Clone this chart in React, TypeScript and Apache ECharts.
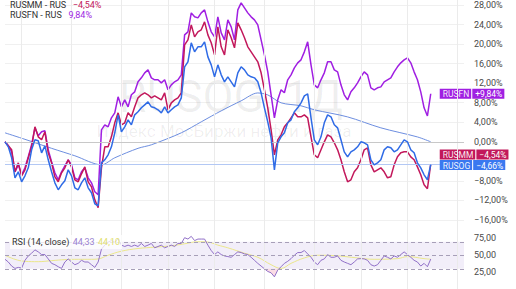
import React, { useEffect, useRef } from 'react';
import * as echarts from 'echarts';

// Change since start, % (index = trading session)
const rusfn = [0, -0.82, -2.05, -6.14, -4.71, -6.75, -5.32, -3.07, -0.61, 2.86, 1.23, 2.05, 2.25, -1.64, -4.09, -6.34, -7.77, -6.14, -4.91, -3.68, -4.71, -7.37, -7.77, -6.14, -5.32, -7.37, -8.39, -10.23, -10.84, 2.46, 3.48, 3.07, 4.91, 5.93, 9.21, 7.16, 8.59, 7.16, 9.62, 10.23, 12.28, 13.09, 14.12, 14.73, 13.09, 12.69, 12.69, 12.07, 12.69, 10.64, 11.66, 12.28, 12.69, 13.71, 21.89, 22.51, 26.39, 25.58, 25.37, 26.39, 27.01, 24.55, 22.51, 21.48, 25.58, 22.3, 20.87, 24.96, 23.53, 20.87, 27.01, 28.44, 27.42, 26.39, 25.58, 24.96, 23.94, 20.87, 17.8, 14.32, 9.62, 4.91, 8.59, 10.64, 10.03, 12.69, 13.71, 15.14, 16.16, 16.78, 18.41, 20.46, 15.75, 11.66, 11.05, 12.69, 14.12, 16.37, 16.37, 14.73, 14.32, 11.66, 9.62, 8.59, 10.23, 11.05, 12.07, 13.3, 14.32, 13.71, 11.05, 10.64, 11.05, 11.25, 12.28, 12.69, 13.09, 14.32, 15.35, 16.16, 16.78, 17.19, 16.16, 14.32, 12.69, 10.23, 6.96, 5.3, 9.84];
const rusmm = [0, -0.82, -1.64, -6.14, -4.3, -6.96, -5.73, -3.27, -1.02, 3.07, 1.02, 0.41, 2.05, -2.25, -4.3, -7.16, -8.18, -6.34, -5.32, -3.68, -5.12, -7.77, -8.18, -6.55, -5.12, -8.18, -9.21, -11.87, -13.5, -5.32, -1.02, -1.02, 1.02, 3.89, 5.93, 3.48, 3.89, 5.93, 5.12, 7.16, 9.0, 9.62, 10.03, 9.62, 9.0, 9.41, 9.0, 8.59, 10.03, 6.55, 7.98, 8.59, 9.0, 10.03, 19.85, 20.87, 23.94, 21.48, 22.51, 22.92, 24.55, 21.89, 20.26, 17.8, 23.53, 19.44, 17.8, 22.92, 21.28, 19.23, 24.35, 22.92, 21.28, 19.44, 18.41, 17.39, 16.37, 14.12, 10.64, 6.96, 2.46, -2.66, 0.41, 1.43, 3.07, 3.89, 4.91, 5.93, 5.12, 5.12, 5.52, 4.91, 1.02, -2.66, -3.27, -1.64, 0, 1.43, 1.02, -0.2, -1.64, -3.68, -6.14, -8.18, -7.77, -6.14, -5.32, -3.68, -1.64, -1.23, -4.71, -6.14, -5.73, -5.32, -6.14, -7.37, -7.16, -4.71, -3.07, -2.25, -2.05, -2.05, -3.07, -3.68, -5.12, -6.75, -8.8, -9.6, -4.54];
const rusog = [0, -1.02, -3.27, -7.37, -6.14, -8.18, -6.96, -5.32, -1.64, 0.41, 0.2, -2.25, -0.82, -3.68, -6.14, -8.39, -9.82, -8.8, -7.98, -5.73, -6.96, -9.41, -9.82, -8.39, -7.37, -9.41, -10.43, -12.69, -13.09, -4.3, -3.68, -2.66, -1.02, 1.84, 5.52, 2.05, 3.07, 4.5, 3.48, 5.52, 6.14, 6.96, 7.57, 8.18, 7.16, 6.96, 6.55, 5.93, 7.16, 5.93, 6.55, 7.16, 7.57, 9.0, 15.35, 16.37, 20.26, 18.41, 19.44, 19.44, 20.46, 17.39, 15.75, 13.3, 15.75, 13.71, 12.28, 13.3, 12.28, 11.25, 14.12, 15.35, 14.73, 13.71, 13.3, 13.09, 12.28, 10.03, 6.96, 4.09, 0.82, -5.73, -0.2, 1.02, 1.84, 3.89, 4.5, 6.14, 6.96, 7.98, 9.41, 9.82, 4.91, 0.41, -0.61, 1.02, 3.89, 5.52, 5.12, 3.48, 2.86, 0.41, -2.05, -3.07, -2.05, -1.64, -1.02, 0, -0.2, -0.61, -3.68, -4.71, -4.3, -3.68, -1.64, -1.02, -1.23, -2.05, -1.64, -0.61, 0.41, 0, -1.64, -2.25, -4.3, -5.32, -6.75, -7.77, -4.66];

// Moving average of RUSOG (read at selected sessions)
const maIdx = [0, 6, 14, 21, 29, 33, 40, 44, 53, 59, 65, 71, 76, 79, 83, 89, 93, 103, 113, 124, 128];
const maVal = [1.84, 0.51, -1.33, -2.86, -4.71, -3.27, -1.33, -0.61, 1.84, 4.09, 6.34, 8.39, 10.0, 9.6, 7.98, 7.37, 6.55, 5.1, 2.86, 1.0, 0];

// RSI (14, close)
const rsi = [44, 40, 34, 30.5, 32, 31, 42.5, 49, 53, 58, 55, 51, 51, 44.6, 38, 36, 33, 30.5, 40, 44.6, 40, 36, 38, 42.5, 40, 40, 36, 32, 40, 59, 65, 69.5, 71.7, 69.5, 74, 65, 63, 65, 63, 65, 63, 67.5, 63, 65, 67.5, 61, 63, 65, 61, 63, 65, 63, 67.5, 67.5, 76, 74, 78, 71.7, 74, 74, 74, 65, 57, 51, 55, 51, 49, 48, 47, 51, 55, 54, 52, 51, 47, 42.5, 38, 34, 30, 26, 24, 18, 28, 33, 38, 41, 45, 50, 54, 54, 57, 52, 47, 40, 36, 42.5, 44.6, 51, 47, 47, 49, 42.5, 40, 38, 36, 40, 44.6, 45, 44.6, 42.5, 36, 34, 36, 42.5, 49, 47, 44.6, 49, 47, 51, 55, 51, 47, 42.5, 40, 34, 38, 33, 44.33];
const rsiMaIdx = [0, 3, 6, 10, 14, 18, 22, 26, 28, 31, 35, 40, 45, 50, 54, 58, 61, 64, 67, 72, 76, 80, 83, 86, 90, 94, 99, 106, 111, 118, 121, 126, 128];
const rsiMaVal = [50, 44, 41, 40.5, 42, 43.5, 44, 44, 44.5, 50, 56, 60, 62, 64, 67, 70, 69.5, 65, 61, 53, 47, 36, 30.5, 38, 46, 50, 49.5, 46, 44, 45, 48, 45, 44.1];

const SLOTS = 139;
const gridCols = [5, 20, 35, 49, 63, 78, 93, 107, 121, 136];
const rsiBands = [30, 50, 70];
const rsiLabels = [25, 50, 75];

const C_FN = '#a01fe2';
const C_MM = '#c2185b';
const C_OG = '#2f6be6';

const fmtPct = (v: number, plus = false) =>
  (v < 0 ? '−' : plus ? '+' : '') + Math.abs(v).toFixed(2).replace('.', ',') + '%';
const fmtNum = (v: number) => v.toFixed(2).replace('.', ',');

const sparse = (idx: number[], val: number[], n: number) => {
  const arr: (number | null)[] = new Array(n).fill(null);
  idx.forEach((k, j) => (arr[k] = val[j]));
  return arr;
};

const badge = (color: string) => ({
  n: { backgroundColor: color, color: 'rgba(255,255,255,0.92)', fontSize: 8.5, padding: [1, 2, 0, 3], lineHeight: 9, height: 9 },
  s: { backgroundColor: 'rgba(255,255,255,0.5)', width: 1, height: 10, lineHeight: 9, fontSize: 8 },
  v: { backgroundColor: color, color: '#fff', fontSize: 8.5, padding: [1, 2, 0, 3], lineHeight: 9, height: 9 },
});

export default function App() {
  const ref = useRef<HTMLDivElement>(null);
  useEffect(() => {
    const chart = echarts.init(ref.current!, null, { renderer: 'svg' });
    const cats = Array.from({ length: SLOTS }, (_, i) => String(i));
    const n = rusog.length;
    const lastFN = rusfn[n - 1];
    const lastMM = rusmm[n - 1];
    const lastOG = rusog[n - 1];
    const lastRsi = rsi[rsi.length - 1];
    const lastRsiMa = rsiMaVal[rsiMaVal.length - 1];
    // axis labels hidden behind the lower value badges
    const covered = (v: number) => Math.abs(v - lastMM) < 1.5 || Math.abs(v - lastOG) < 1.5;

    const xAx = (gridIndex: number) => ({
      type: 'category',
      gridIndex,
      data: cats,
      boundaryGap: false,
      axisLine: { show: false },
      axisTick: { show: false },
      axisLabel: { show: false },
      splitLine: { show: false },
    });

    const lineBase = {
      type: 'line',
      xAxisIndex: 0,
      yAxisIndex: 0,
      showSymbol: false,
      symbol: 'none',
      clip: false,
      silent: true,
    };

    const endLab = (name: string, color: string, v: number, dy: number) => ({
      show: true,
      distance: 9,
      offset: [0, dy],
      formatter: () => `{n|${name}}{s| }{v|${fmtPct(v, true)}}`,
      rich: badge(color),
    });

    const option: any = {
      animation: false,
      backgroundColor: '#ffffff',
      textStyle: { fontFamily: 'Roboto, sans-serif' },
      grid: [
        { left: 5, right: 52, top: 5, height: 215 },
        { left: 5, right: 52, top: 221.5, height: 80 },
        { left: 5, right: 52, top: 0, bottom: 0 },
      ],
      xAxis: [xAx(0), xAx(1), xAx(2)],
      yAxis: [
        {
          type: 'value',
          gridIndex: 0,
          position: 'right',
          min: -16,
          max: 28,
          interval: 4,
          axisLine: { show: false },
          axisTick: { show: false },
          axisLabel: {
            fontSize: 9,
            color: '#4a4a4a',
            margin: 10,
            formatter: (v: number) => (covered(v) ? '' : fmtPct(v)),
          },
          splitLine: { lineStyle: { color: '#f0f0f0' } },
        },
        {
          type: 'value',
          gridIndex: 1,
          position: 'right',
          min: 0,
          max: 100,
          interval: 25,
          axisLine: { show: false },
          axisTick: { show: false },
          axisLabel: {
            fontSize: 9,
            color: '#4a4a4a',
            margin: 10,
            formatter: (v: number) => (rsiLabels.includes(v) ? fmtNum(v) : ''),
          },
          splitLine: { show: false },
        },
        { type: 'value', gridIndex: 2, show: false, min: 0, max: 1 },
      ],
      graphic: [
        {
          type: 'text',
          silent: true,
          z: 1,
          x: 231,
          y: 96,
          style: {
            text: 'RUSOG, 1Д',
            align: 'center',
            verticalAlign: 'middle',
            fill: 'rgba(0,0,0,0.065)',
            font: '45px Roboto, sans-serif',
          },
        },
        {
          type: 'text',
          silent: true,
          z: 1,
          x: 224,
          y: 131,
          style: {
            text: 'Индекс МосБиржи нефти и газа',
            align: 'center',
            verticalAlign: 'middle',
            fill: 'rgba(0,0,0,0.065)',
            font: '17px Roboto, sans-serif',
          },
        },
        {
          type: 'text',
          z: 100,
          x: 10,
          y: 5,
          style: {
            text: `{a|RUSMM - RUS}  {b|${fmtPct(lastMM)}}`,
            verticalAlign: 'middle',
            rich: {
              a: { fontSize: 9, fill: '#333', fontFamily: 'Roboto' },
              b: { fontSize: 9, fill: C_MM, fontFamily: 'Roboto' },
            },
          },
        },
        {
          type: 'text',
          z: 100,
          x: 10,
          y: 14.5,
          style: {
            text: `{a|RUSFN - RUS}  {b|${fmtPct(lastFN)}}`,
            verticalAlign: 'middle',
            rich: {
              a: { fontSize: 9, fill: '#333', fontFamily: 'Roboto' },
              b: { fontSize: 9, fill: C_FN, fontFamily: 'Roboto' },
            },
          },
        },
        {
          type: 'text',
          z: 100,
          x: 10,
          y: 242,
          style: {
            text: `{a|RSI (14, close)} {b|${fmtNum(lastRsi)}} {c|${fmtNum(lastRsiMa)}}`,
            verticalAlign: 'middle',
            backgroundColor: 'rgba(255,255,255,0.75)',
            padding: [1, 2],
            rich: {
              a: { fontSize: 9, fill: '#333', fontFamily: 'Roboto' },
              b: { fontSize: 9, fill: '#9a7fd0', fontFamily: 'Roboto' },
              c: { fontSize: 9, fill: '#e2df70', fontFamily: 'Roboto' },
            },
          },
        },
      ],
      series: [
        {
          type: 'line',
          name: 'columns',
          xAxisIndex: 2,
          yAxisIndex: 2,
          data: cats.map(() => null),
          showSymbol: false,
          symbol: 'none',
          silent: true,
          z: 0,
          markLine: {
            silent: true,
            symbol: 'none',
            label: { show: false },
            lineStyle: { color: '#ebebeb', width: 1, type: 'solid' },
            data: gridCols.map((c) => ({ xAxis: String(c) })),
          },
        },
        {
          ...lineBase,
          name: 'MA',
          data: sparse(maIdx, maVal, n),
          connectNulls: true,
          smooth: 0.3,
          z: 2,
          lineStyle: { width: 1, color: '#6d8ee0' },
          markLine: {
            silent: true,
            symbol: 'none',
            label: { show: false },
            lineStyle: { color: '#c8c8c8', width: 1, type: 'solid' },
            data: [{ yAxis: 0 }],
          },
        },
        {
          ...lineBase,
          name: 'RUSFN',
          data: rusfn,
          z: 3,
          lineStyle: { width: 1.5, color: C_FN },
          endLabel: endLab('RUSFN', C_FN, lastFN, 0),
        },
        {
          ...lineBase,
          name: 'RUSMM',
          data: rusmm,
          z: 4,
          lineStyle: { width: 1.5, color: C_MM },
          endLabel: endLab('RUSMM', C_MM, lastMM, -9.5),
        },
        {
          ...lineBase,
          name: 'RUSOG',
          data: rusog,
          z: 5,
          lineStyle: { width: 1.5, color: C_OG },
          endLabel: endLab('RUSOG', '#3a78f0', lastOG, 0.5),
          markLine: {
            silent: true,
            symbol: 'none',
            label: { show: false },
            lineStyle: { color: '#b3c8f4', width: 1, type: 'solid' },
            data: [{ yAxis: lastOG }],
          },
        },
        {
          type: 'line',
          name: 'RSI',
          xAxisIndex: 1,
          yAxisIndex: 1,
          data: rsi,
          showSymbol: false,
          symbol: 'none',
          silent: true,
          z: 4,
          lineStyle: { width: 1, color: '#9170c8' },
          markArea: {
            silent: true,
            itemStyle: { color: 'rgba(149,117,205,0.12)' },
            data: [[{ yAxis: rsiBands[0] }, { yAxis: rsiBands[2] }]],
          },
          markLine: {
            silent: true,
            symbol: 'none',
            label: { show: false },
            lineStyle: { color: '#a79fb8', width: 1, type: [4, 3] },
            data: rsiBands.map((b) => ({ yAxis: b })),
          },
        },
        {
          type: 'line',
          name: 'RSI MA',
          xAxisIndex: 1,
          yAxisIndex: 1,
          data: sparse(rsiMaIdx, rsiMaVal, n),
          connectNulls: true,
          smooth: 0.4,
          showSymbol: false,
          symbol: 'none',
          silent: true,
          z: 3,
          lineStyle: { width: 1, color: '#ebe78a' },
        },
        {
          type: 'line',
          name: 'osBase',
          xAxisIndex: 1,
          yAxisIndex: 1,
          stack: 'os',
          stackStrategy: 'all',
          data: rsi.map(() => rsiBands[0]),
          showSymbol: false,
          symbol: 'none',
          silent: true,
          lineStyle: { opacity: 0 },
          z: 2,
        },
        {
          type: 'line',
          name: 'osFill',
          xAxisIndex: 1,
          yAxisIndex: 1,
          stack: 'os',
          stackStrategy: 'all',
          data: rsi.map((v) => Math.min(v - rsiBands[0], 0)),
          showSymbol: false,
          symbol: 'none',
          silent: true,
          lineStyle: { opacity: 0 },
          areaStyle: { color: 'rgba(240,110,150,0.35)' },
          z: 2,
        },
      ],
    };
    chart.setOption(option);
    return () => chart.dispose();
  }, []);
  return (
    <div
      ref={ref}
      style={{ position: 'fixed', left: 0, top: 0, width: 516, height: 289, background: '#fff' }}
    />
  );
}
